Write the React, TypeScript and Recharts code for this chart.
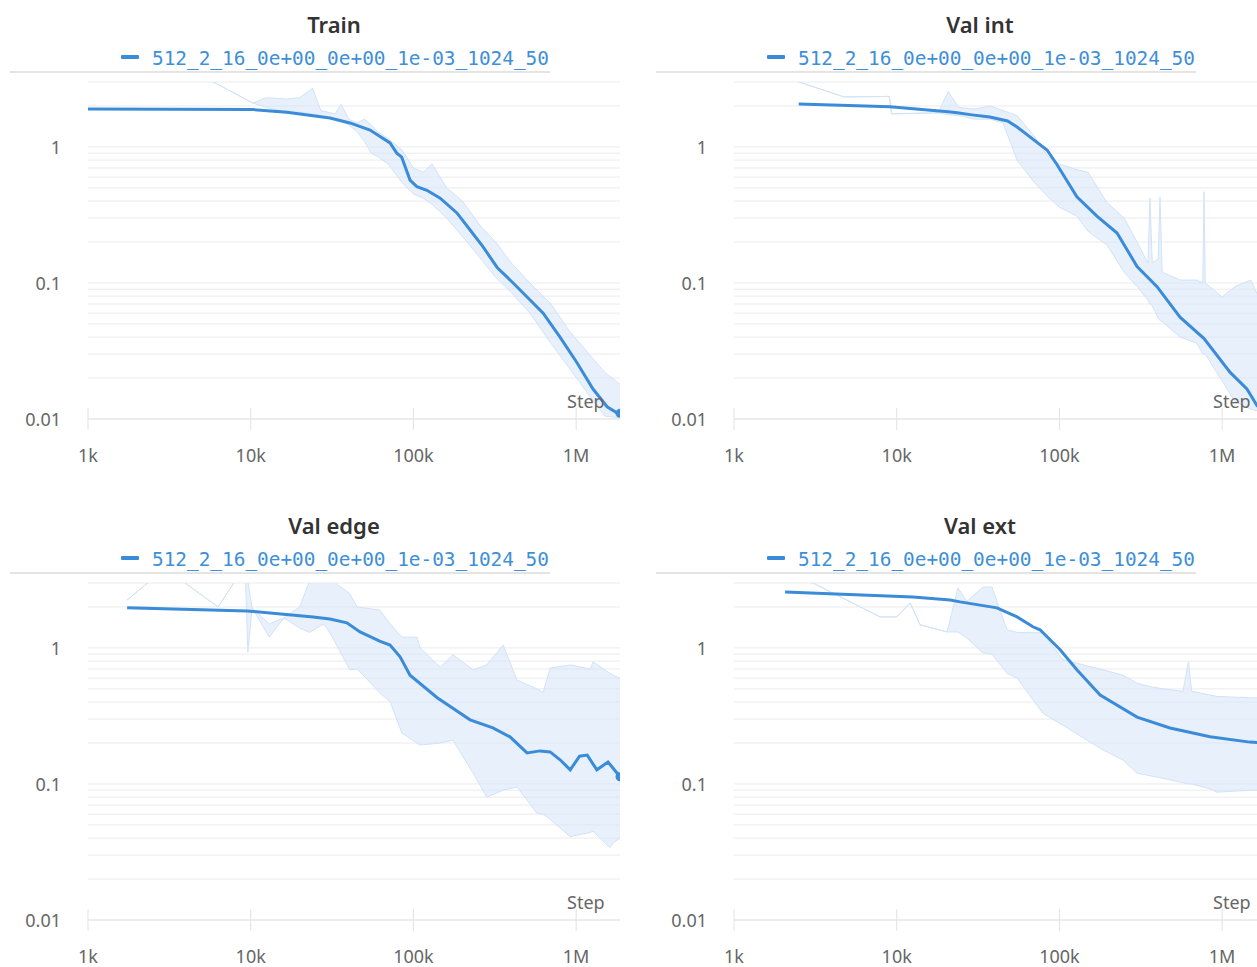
import { ComposedChart, Line, Area, XAxis, YAxis, CartesianGrid } from 'recharts'

const RUN_NAME = '512_2_16_0e+00_0e+00_1e-03_1024_50'

const X_TICKS = [1000, 10000, 100000, 1000000]
const X_TICK_LABELS = ['1k', '10k', '100k', '1M']
const Y_LABELED = [0.01, 0.1, 1]
const Y_LABELS = ['0.01', '0.1', '1']
const Y_GRID = [
  0.01, 0.02, 0.03, 0.04, 0.05, 0.06, 0.07, 0.08, 0.09,
  0.1, 0.2, 0.3, 0.4, 0.5, 0.6, 0.7, 0.8, 0.9,
  1, 2, 3,
]

// [step, smoothed loss]
const trainSmooth = [
  [1000, 1.9], [10300, 1.88], [16700, 1.8], [30700, 1.63], [40700, 1.5], [54100, 1.33],
  [71800, 1.07], [79000, 0.9], [84700, 0.84], [95300, 0.57], [105000, 0.51], [121000, 0.48],
  [146000, 0.42], [185000, 0.327], [223000, 0.245], [268000, 0.184], [327000, 0.13],
  [410000, 0.1], [521000, 0.075], [627000, 0.06], [796000, 0.04], [1010000, 0.026],
  [1270000, 0.0166], [1550000, 0.0123], [1780000, 0.0111], [1860000, 0.011],
]
// [step, raw low, raw high]
const trainRaw = [
  [1000, 4.5, 4.5], [5900, 3.0, 3.0], [10300, 2.1, 2.1], [12500, 1.95, 2.3], [16500, 1.8, 2.25],
  [20000, 1.8, 2.3], [24000, 1.75, 2.7], [27000, 1.7, 1.85], [33000, 1.6, 1.75], [36000, 1.55, 2.05],
  [40000, 1.45, 1.6], [45000, 1.3, 1.5], [50000, 1.1, 1.6], [55000, 0.9, 1.45], [60000, 0.85, 1.3],
  [70000, 0.75, 1.15], [85000, 0.55, 0.95], [100000, 0.45, 0.7], [115000, 0.42, 0.65],
  [130000, 0.38, 0.75], [160000, 0.3, 0.5], [200000, 0.22, 0.4], [260000, 0.15, 0.26],
  [320000, 0.11, 0.2], [400000, 0.085, 0.14], [520000, 0.06, 0.1], [700000, 0.036, 0.07],
  [900000, 0.024, 0.045], [1200000, 0.015, 0.03], [1500000, 0.0105, 0.022], [1860000, 0.0102, 0.018],
]

const valIntSmooth = [
  [2500, 2.07], [9100, 1.97], [20700, 1.81], [23500, 1.78], [29000, 1.72], [37400, 1.66],
  [48000, 1.55], [54900, 1.4], [63200, 1.23], [83900, 0.95], [96700, 0.74], [128000, 0.43],
  [170000, 0.31], [226000, 0.233], [300000, 0.132], [398000, 0.094], [551000, 0.056],
  [774000, 0.039], [1120000, 0.022], [1420000, 0.0166], [1640000, 0.0125], [1860000, 0.0112],
]
const valIntRaw = [
  [2500, 3.0, 3.0], [4750, 2.33, 2.33], [9000, 2.35, 2.35], [9300, 1.75, 1.75], [18000, 1.78, 1.78],
  [20700, 1.72, 2.55], [24000, 1.7, 1.95], [30000, 1.6, 1.9], [37400, 1.6, 2.0], [45000, 1.5, 1.85],
  [54900, 0.8, 1.7], [70000, 0.55, 1.2], [85000, 0.43, 0.85], [100000, 0.36, 0.75],
  [128000, 0.31, 0.68], [150000, 0.24, 0.65], [196000, 0.19, 0.39], [250000, 0.12, 0.3],
  [300000, 0.094, 0.2], [350000, 0.075, 0.14], [360000, 0.07, 0.42], [372000, 0.068, 0.14],
  [405000, 0.055, 0.15], [415000, 0.053, 0.43], [428000, 0.052, 0.12], [551000, 0.04, 0.105],
  [700000, 0.036, 0.105], [760000, 0.03, 0.1], [774000, 0.03, 0.47], [788000, 0.03, 0.1],
  [1000000, 0.019, 0.079], [1200000, 0.0135, 0.094], [1500000, 0.0118, 0.105], [1860000, 0.011, 0.06],
]

const valEdgeSmooth = [
  [1740, 1.97], [9500, 1.87], [24200, 1.69], [30700, 1.63], [39000, 1.53], [47000, 1.31],
  [62000, 1.12], [71800, 1.05], [82800, 0.86], [95300, 0.63], [140000, 0.43], [223000, 0.296],
  [308000, 0.258], [392000, 0.222], [499000, 0.169], [600000, 0.175], [692000, 0.172],
  [800000, 0.15], [919000, 0.127], [1050000, 0.16], [1170000, 0.163], [1340000, 0.127],
  [1570000, 0.145], [1860000, 0.113],
]
const valEdgeRaw = [
  [1740, 2.25, 2.25], [2400, 3.1, 3.1], [3800, 3.1, 3.1], [6300, 2.0, 2.0], [8000, 3.1, 3.1],
  [9300, 3.1, 3.1], [9600, 0.93, 3.1], [10200, 1.97, 1.97], [13000, 1.2, 1.5], [16000, 1.66, 1.66],
  [20000, 1.4, 2.0], [23000, 1.3, 3.1], [28000, 1.5, 3.1], [30700, 1.29, 3.2], [40700, 0.69, 2.5],
  [45100, 0.7, 2.0], [62000, 0.47, 1.9], [72000, 0.4, 1.5], [85000, 0.237, 1.2], [105000, 0.2, 1.2],
  [110000, 0.193, 1.0], [146000, 0.2, 0.72], [175000, 0.21, 0.89], [233000, 0.12, 0.69],
  [282000, 0.08, 0.75], [356000, 0.09, 1.05], [433000, 0.095, 0.58], [574000, 0.061, 0.5],
  [627000, 0.06, 0.47], [692000, 0.055, 0.71], [919000, 0.041, 0.75], [1220000, 0.044, 0.7],
  [1270000, 0.045, 0.79], [1610000, 0.034, 0.65], [1690000, 0.037, 0.63], [1860000, 0.04, 0.6],
]

const valExtSmooth = [
  [2060, 2.58], [12600, 2.37], [21300, 2.25], [24500, 2.18], [41300, 1.97], [54900, 1.69],
  [68700, 1.43], [76000, 1.36], [101000, 0.97], [128000, 0.69], [178000, 0.45], [300000, 0.31],
  [478000, 0.258], [843000, 0.222], [1480000, 0.203], [1860000, 0.2],
]
const valExtRaw = [
  [2060, 3.2, 3.2], [3060, 3.0, 3.0], [7900, 1.69, 1.69], [10000, 1.69, 1.69], [12100, 2.14, 2.14],
  [13900, 1.48, 1.48], [20400, 1.31, 1.31], [23800, 1.31, 2.76], [27000, 1.18, 2.2],
  [33900, 0.92, 2.8], [38500, 0.9, 2.8], [47600, 0.65, 1.36], [54900, 0.6, 1.3], [79300, 0.33, 1.29],
  [105000, 0.27, 0.82], [185000, 0.178, 0.69], [246000, 0.15, 0.63], [300000, 0.12, 0.55],
  [360000, 0.115, 0.52], [433000, 0.11, 0.5], [575000, 0.102, 0.48], [620000, 0.1, 0.79],
  [650000, 0.1, 0.48], [843000, 0.092, 0.45], [930000, 0.087, 0.44], [1480000, 0.09, 0.43],
  [1860000, 0.09, 0.43],
]

const BLUE = '#3a8bd8'
const TEXT_GRAY = '#666'
const FONT = '"Noto Sans", sans-serif'

function XTick(props: any) {
  const { x, y, payload } = props
  const label = X_TICK_LABELS[X_TICKS.indexOf(payload.value)]
  return (
    <g>
      <line x1={x} x2={x} y1={y - 11} y2={y + 11} stroke="#e2e2e2" />
      <text x={x} y={y + 36} textAnchor="middle" dominantBaseline="central" fill={TEXT_GRAY} fontSize={18} fontFamily={FONT}>
        {label}
      </text>
    </g>
  )
}

function YTick(props: any) {
  const { x, y, payload } = props
  const i = Y_LABELED.findIndex((v) => Math.abs(v - payload.value) < 1e-9)
  if (i < 0) return <g />
  return (
    <text x={x} y={y} textAnchor="end" dominantBaseline="central" fill={TEXT_GRAY} fontSize={18} fontFamily={FONT}>
      {Y_LABELS[i]}
    </text>
  )
}

function Panel({ title, left, top, smooth, raw }: { title: string; left: number; top: number; smooth: number[][]; raw: number[][] }) {
  const smoothData = smooth.map(([s, v]) => ({ s, v }))
  const rawData = raw.map(([s, lo, hi]) => ({ s, r: [lo, hi] }))
  const last = smoothData.length - 1

  return (
    <div style={{ position: 'absolute', left, top, width: 668, height: 470 }}>
      <div style={{ position: 'absolute', left: 0, top: 9, width: 668, textAlign: 'center', font: `600 22px ${FONT}`, lineHeight: '30px', color: '#333' }}>
        {title}
      </div>
      <div style={{ position: 'absolute', left: 121, top: 55, width: 18, height: 4, background: BLUE, borderRadius: 1 }} />
      <div style={{ position: 'absolute', left: 152, top: 47, font: '19.4px "DejaVu Sans Mono", monospace', lineHeight: '24px', color: '#3e8fd8', whiteSpace: 'nowrap' }}>
        {RUN_NAME}
      </div>
      <div style={{ position: 'absolute', left: 10, top: 71, width: 540, height: 2, background: '#e4e4e4' }} />
      <div style={{ position: 'absolute', left: 0, top: 0 }}>
        <ComposedChart width={630} height={469} margin={{ top: 82, right: 10, bottom: 0, left: 0 }}>
          <CartesianGrid vertical={false} stroke="#ebebeb" />
          <XAxis
            type="number"
            dataKey="s"
            scale="log"
            domain={[1000, 1860000]}
            allowDataOverflow
            ticks={X_TICKS}
            interval={0}
            height={50}
            tickSize={0}
            tickMargin={0}
            axisLine={{ stroke: '#e4e4e4' }}
            tickLine={false}
            tick={(p: any) => <XTick {...p} />}
          />
          <YAxis
            type="number"
            scale="log"
            domain={[0.01, 3]}
            allowDataOverflow
            ticks={Y_GRID}
            interval={0}
            width={88}
            tickSize={0}
            tickMargin={27}
            axisLine={false}
            tickLine={false}
            tick={(p: any) => <YTick {...p} />}
          />
          <Area
            data={rawData}
            dataKey="r"
            type="linear"
            stroke="#d2e3f6"
            strokeWidth={1}
            fill="#d6e6f8"
            fillOpacity={0.55}
            dot={false}
            activeDot={false}
            isAnimationActive={false}
          />
          <Line
            data={smoothData}
            dataKey="v"
            type="linear"
            stroke={BLUE}
            strokeWidth={3}
            dot={(p: any) =>
              p.index === last ? <circle key="end" cx={p.cx} cy={p.cy} r={4.5} fill={BLUE} /> : <g key={p.index} />
            }
            activeDot={false}
            isAnimationActive={false}
          />
        </ComposedChart>
      </div>
      <div style={{ position: 'absolute', left: 567, top: 388, font: `18px ${FONT}`, lineHeight: '26px', color: TEXT_GRAY }}>
        Step
      </div>
    </div>
  )
}

export default function App() {
  return (
    <div style={{ position: 'absolute', left: 0, top: 0, width: 1257, height: 967, overflow: 'hidden', background: '#fff' }}>
      <Panel title="Train" left={0} top={0} smooth={trainSmooth} raw={trainRaw} />
      <Panel title="Val int" left={646} top={0} smooth={valIntSmooth} raw={valIntRaw} />
      <Panel title="Val edge" left={0} top={501} smooth={valEdgeSmooth} raw={valEdgeRaw} />
      <Panel title="Val ext" left={646} top={501} smooth={valExtSmooth} raw={valExtRaw} />
    </div>
  )
}
